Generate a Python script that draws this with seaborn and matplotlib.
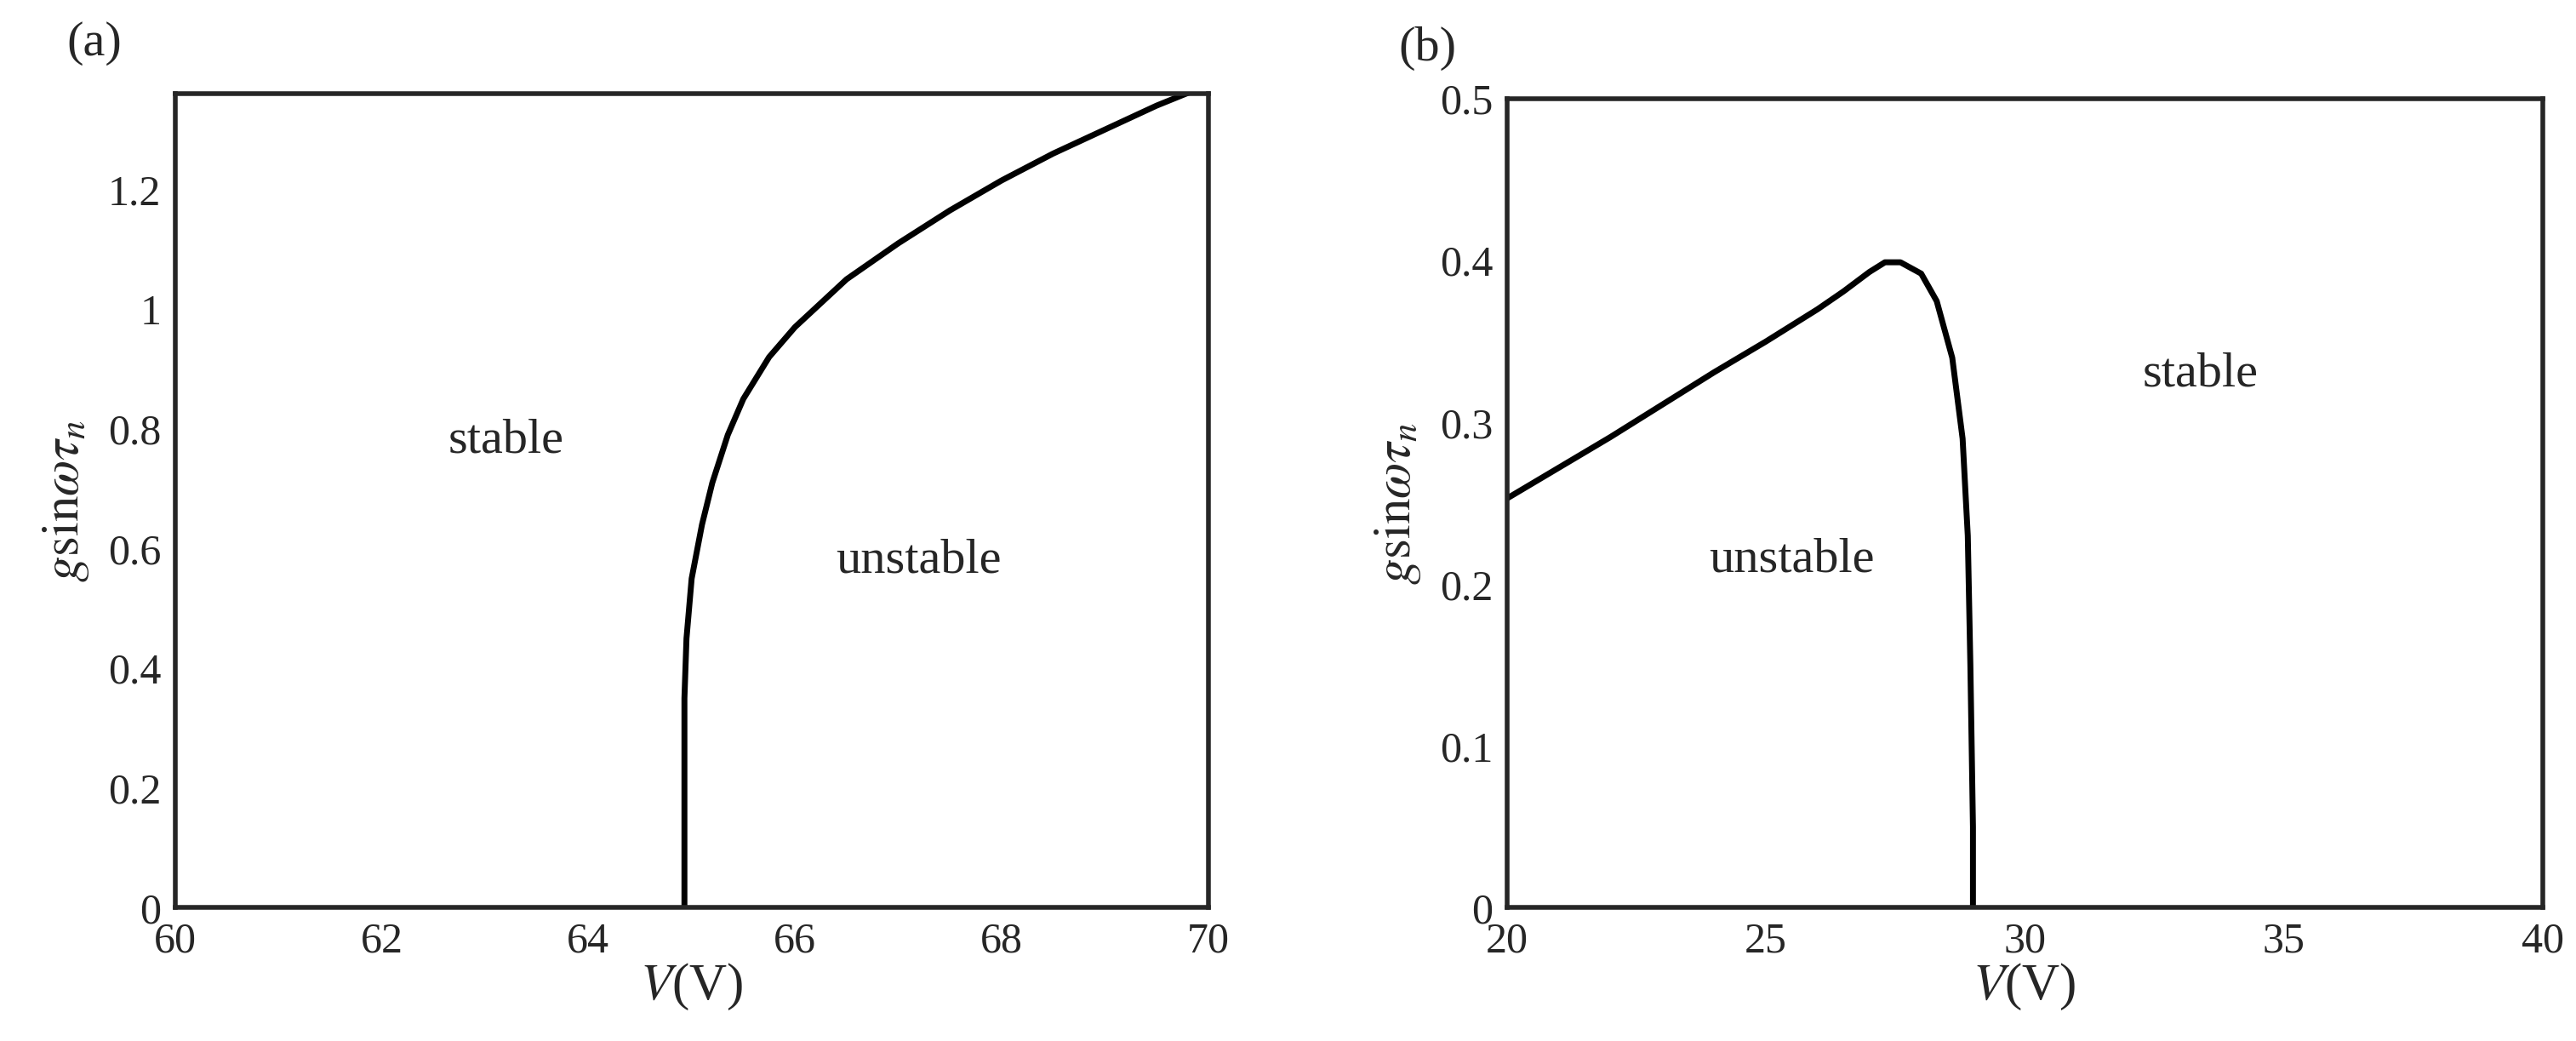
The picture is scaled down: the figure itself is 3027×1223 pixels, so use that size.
import matplotlib
matplotlib.use('Agg')
import matplotlib.pyplot as plt
import seaborn as sns
import pandas as pd

# panel (a) boundary curve
va = [64.93, 64.93, 64.95, 65.0, 65.1, 65.2, 65.35, 65.5, 65.75, 66.0, 66.5, 67.0, 67.5, 68.0, 68.5, 69.0, 69.5, 70.0]
ga = [0.0, 0.35, 0.45, 0.55, 0.64, 0.71, 0.79, 0.85, 0.92, 0.97, 1.05, 1.11, 1.165, 1.215, 1.26, 1.30, 1.34, 1.375]

# panel (b) boundary curve
vb = [20, 21, 22, 23, 24, 25, 26, 26.5, 27, 27.3, 27.6, 28.0, 28.3, 28.6, 28.8, 28.9, 28.95, 29.0, 29.0]
gb = [0.253, 0.272, 0.291, 0.311, 0.331, 0.350, 0.370, 0.381, 0.393, 0.399, 0.399, 0.392, 0.375, 0.34, 0.29, 0.23, 0.15, 0.05, 0.0]

sns.set_style('white')
plt.rcParams['font.family'] = ['Liberation Serif', 'DejaVu Serif']
plt.rcParams['mathtext.fontset'] = 'stix'

fig = plt.figure(figsize=(30.27, 12.23), dpi=100)
ax1 = fig.add_axes([0.068, 0.128, 0.401, 0.782])
ax2 = fig.add_axes([0.585, 0.128, 0.402, 0.777])

sns.lineplot(data=pd.DataFrame({'V': va, 'g': ga}), x='V', y='g', sort=False,
             estimator=None, color='black', lw=5, ax=ax1)
sns.lineplot(data=pd.DataFrame({'V': vb, 'g': gb}), x='V', y='g', sort=False,
             estimator=None, color='black', lw=5, ax=ax2)

ax1.set_xlim(60, 70)
ax1.set_ylim(0, 1.36)
ax1.set_xticks([60, 62, 64, 66, 68, 70])
ax1.set_yticks([0, 0.2, 0.4, 0.6, 0.8, 1.0, 1.2])
ax1.set_yticklabels(['0', '0.2', '0.4', '0.6', '0.8', '1', '1.2'])
ax1.text(63.2, 0.78, 'stable', fontsize=42, ha='center', va='center')
ax1.text(67.2, 0.58, 'unstable', fontsize=42, ha='center', va='center')

ax2.set_xlim(20, 40)
ax2.set_ylim(0, 0.5)
ax2.set_xticks([20, 25, 30, 35, 40])
ax2.set_yticks([0, 0.1, 0.2, 0.3, 0.4, 0.5])
ax2.set_yticklabels(['0', '0.1', '0.2', '0.3', '0.4', '0.5'])
ax2.text(33.4, 0.33, 'stable', fontsize=42, ha='center', va='center')
ax2.text(25.5, 0.215, 'unstable', fontsize=42, ha='center', va='center')

for ax, lab in [(ax1, '(a)'), (ax2, '(b)')]:
    ax.set_xlabel(r'$V$(V)', fontsize=44, labelpad=0)
    ax.set_ylabel(r'$g\mathrm{sin}\omega\tau_n$', fontsize=44, labelpad=14)
    ax.tick_params(direction='in', length=8, width=2, labelsize=36, pad=12,
                   top=False, right=False)
    for s in ax.spines.values():
        s.set_linewidth(4)
    ax.text(-0.105, 1.035, lab, transform=ax.transAxes, fontsize=42, va='bottom')

fig.savefig('out.png', dpi=100)
